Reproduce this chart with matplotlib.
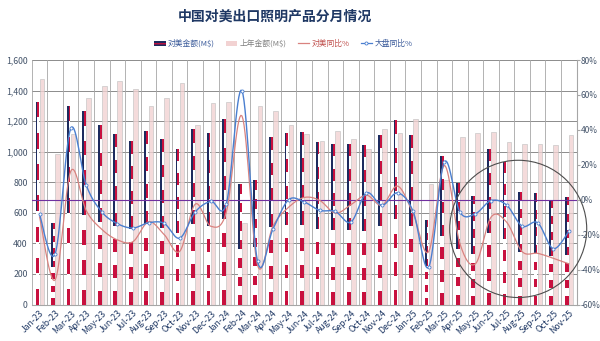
import numpy as np
import matplotlib
matplotlib.use("Agg")
import matplotlib.pyplot as plt
from matplotlib.patches import Patch, Ellipse
from matplotlib.lines import Line2D
from matplotlib.ticker import FuncFormatter

plt.rcParams['font.family'] = ['Noto Sans CJK SC', 'DejaVu Sans']
plt.rcParams['axes.unicode_minus'] = False

# data
months = ['Jan-23', 'Feb-23', 'Mar-23', 'Apr-23', 'May-23', 'Jun-23', 'Jul-23', 'Aug-23',
          'Sep-23', 'Oct-23', 'Nov-23', 'Dec-23', 'Jan-24', 'Feb-24', 'Mar-24', 'Apr-24',
          'May-24', 'Jun-24', 'Jul-24', 'Aug-24', 'Sep-24', 'Oct-24', 'Nov-24', 'Dec-24',
          'Jan-25', 'Feb-25', 'Mar-25', 'Apr-25', 'May-25', 'Jun-25', 'Jul-25', 'Aug-25',
          'Sep-25', 'Oct-25', 'Nov-25']
us_amt = [1327, 532, 1299, 1268, 1175, 1116, 1070, 1137, 1081, 1018, 1146, 1120,
          1214, 787, 813, 1098, 1124, 1131, 1066, 1050, 1050, 1044, 1109, 1207,
          1109, 553, 972, 793, 712, 1018, 930, 738, 728, 684, 702]
prev_amt = [1473, 983, 1117, 1353, 1432, 1462, 1408, 1301, 1349, 1447, 1175, 1320,
            1327, 532, 1299, 1268, 1175, 1116, 1070, 1137, 1081, 1018, 1146, 1120,
            1214, 787, 813, 1098, 1124, 1131, 1066, 1050, 1050, 1044, 1109]
us_yoy = [-9.9, -45.9, 16.3, -6.3, -17.0, -23.0, -24.0, -12.6, -19.9, -29.6, -2.5, -15.2,
          -7.0, 48.0, -37.4, -15.0, -4.3, 1.3, -0.4, -7.7, -2.9, 2.6, -3.2, 7.8,
          -8.0, -29.7, 19.6, -25.0, -36.7, -10.0, -12.8, -29.7, -30.7, -33.5, -36.7]
total_yoy = [-8.4, -31.0, 40.8, 8.3, -7.0, -13.7, -16.2, -13.2, -13.5, -22.0, -7.0, -0.9,
             -2.3, 62.4, -35.2, -16.6, 0.0, -1.3, -6.1, -6.7, -12.8, 3.9, -3.2, 3.9,
             -6.7, -38.6, 21.6, -7.0, -8.0, -0.5, -3.0, -15.1, -13.2, -28.0, -18.1]

navy = '#1d2b5e'
flag_red = '#c8103e'
pink = '#f2d2d2'
red_line = '#d9827f'
blue_line = '#4a7fd0'
label_col = '#44546a'


def smooth(xs, ys, n=16):
    # excel-like smoothed line (catmull-rom through the points)
    xs = np.asarray(xs, float)
    ys = np.asarray(ys, float)
    px = np.concatenate([[xs[0]], xs, [xs[-1]]])
    py = np.concatenate([[ys[0]], ys, [ys[-1]]])
    out_x, out_y = [], []
    t = np.linspace(0, 1, n)
    for i in range(1, len(px) - 2):
        p0, p1 = np.array([px[i], py[i]]), np.array([px[i + 1], py[i + 1]])
        c1 = p0 + (p1 - np.array([px[i - 1], py[i - 1]])) / 6
        c2 = p1 - (np.array([px[i + 2], py[i + 2]]) - p0) / 6
        pts = ((1 - t) ** 3)[:, None] * p0 + (3 * (1 - t) ** 2 * t)[:, None] * c1 \
            + (3 * (1 - t) * t ** 2)[:, None] * c2 + (t ** 3)[:, None] * p1
        out_x.extend(pts[:, 0])
        out_y.extend(pts[:, 1])
    return out_x, out_y


fig = plt.figure(figsize=(6.0, 3.41), dpi=100)
ax = fig.add_axes([0.053, 0.107, 0.908, 0.717])
x = np.arange(len(months))
us = np.array(us_amt, float)

w_us = 0.24
w_prev = 0.3
x_us = x - 0.14
x_prev = x + 0.15

# previous year bars
ax.bar(x_prev, prev_amt, width=w_prev, color=pink, alpha=0.8,
       edgecolor='#bdbdbd', linewidth=0.5, zorder=2)

# US amount bars drawn as little flags: 13 stripes + canton
for k in range(13):
    ax.bar(x_us, us / 13, bottom=us * k / 13, width=w_us,
           color=flag_red if k % 2 == 0 else 'white', linewidth=0, zorder=3)
ax.bar(x_us - w_us * 0.25, us * 7 / 13, bottom=us * 6 / 13, width=w_us * 0.5,
       color=navy, linewidth=0, zorder=4)

ax.set_xlim(-0.5, len(months) - 0.5)
ax.set_ylim(0, 1600)
ax.set_yticks(range(0, 1601, 200))
ax.yaxis.set_major_formatter(FuncFormatter(lambda v, p: f'{int(v):,}'))
ax.set_xticks(x)
ax.set_xticklabels(months, rotation=45, ha='right', rotation_mode='anchor',
                   fontsize=6.3, color='#1f3864')
ax.tick_params(axis='x', length=0, pad=3)
ax.tick_params(axis='y', length=0, labelsize=6.3, labelcolor=label_col, pad=3)

# grid
for yv in range(200, 1601, 200):
    ax.axhline(yv, color='#8c8c8c', lw=0.7, zorder=1)
for xv in np.arange(-0.5, len(months), 1.0):
    ax.axvline(xv, color='#a6a6a6', lw=0.6, zorder=1)
for s in ['top', 'left', 'right']:
    ax.spines[s].set_visible(False)
ax.spines['bottom'].set_color('#a6a6a6')

# yoy lines on the right axis
ax2 = ax.twinx()
ax2.set_ylim(-60, 80)
ax2.set_yticks(range(-60, 81, 20))
ax2.yaxis.set_major_formatter(FuncFormatter(lambda v, p: f'{int(v)}%'))
ax2.tick_params(axis='y', length=2, color='#a6a6a6', labelsize=6.0,
                labelcolor=label_col, pad=1)
for s in ['top', 'left', 'bottom']:
    ax2.spines[s].set_visible(False)
ax2.spines['right'].set_color('#a6a6a6')
ax2.axhline(0, color='#7030a0', lw=0.8, zorder=3)

sx, sy = smooth(x, us_yoy)
ax2.plot(sx, sy, color=red_line, lw=0.9, zorder=5)
bx, by = smooth(x, total_yoy)
ax2.plot(bx, by, color=blue_line, lw=1.0, zorder=6)
ax2.plot(x, total_yoy, ls='none', marker='o', ms=2.2, mfc='white',
         mec=blue_line, mew=0.6, zorder=7)

# highlight circle
ax2.add_patch(Ellipse((30.75, -16.7), 8.8, 78.6, fill=False, edgecolor='#4d4d4d',
                      lw=0.8, zorder=8, clip_on=False))

fig.text(0.458, 0.952, '中国对美出口照明产品分月情况', ha='center', va='center',
         fontsize=10, fontweight='bold', color='#1f3864')

handles = [Patch(facecolor=navy, edgecolor=flag_red, hatch='----', lw=0),
           Patch(facecolor=pink, lw=0),
           Line2D([], [], color=red_line, lw=0.9),
           Line2D([], [], color=blue_line, lw=0.9, marker='o', ms=2.2,
                  mfc='white', mec=blue_line, mew=0.6)]
labels = ['对美金额(M$)', '上年金额(M$)', '对美同比%', '大盘同比%']
leg = fig.legend(handles, labels, loc='center', bbox_to_anchor=(0.472, 0.872),
                 ncol=4, frameon=False, fontsize=5.6, handlelength=1.5,
                 handleheight=0.6, columnspacing=1.4, handletextpad=0.3)
for t, c in zip(leg.get_texts(), ['#3a5a9a', '#7f7f7f', '#c0504d', '#3a5a9a']):
    t.set_color(c)

fig.savefig('out.png', dpi=100, facecolor='white')
